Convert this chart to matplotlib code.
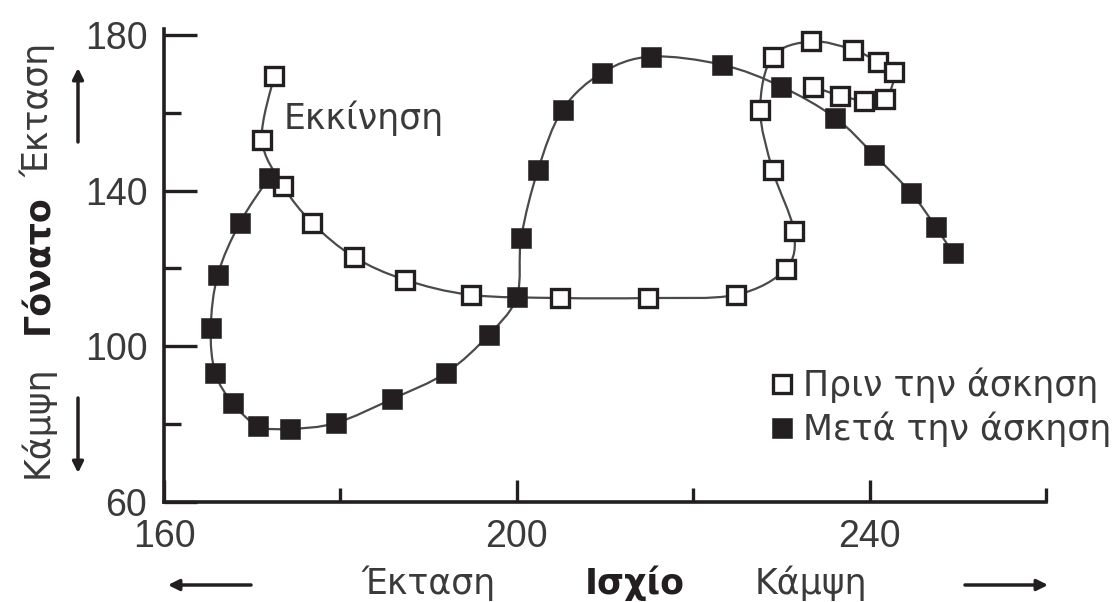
import matplotlib
matplotlib.use("Agg")
import matplotlib.pyplot as plt
from matplotlib.path import Path
from matplotlib.patches import PathPatch, FancyArrowPatch
import numpy as np

plt.rcParams['font.family'] = ['DejaVu Sans']

# Hip angle (x) and knee angle (y) before exercise (open squares)
before_hip = [172.5, 171.1, 173.5, 176.8, 181.5, 187.3, 194.8, 204.9, 214.9, 224.8,
              230.5, 231.4, 229.0, 227.6, 229.0, 233.4, 238.1, 240.9, 242.8, 241.8,
              239.4, 236.6, 233.6]
before_knee = [169.5, 153.1, 141.2, 131.7, 123.0, 117.1, 113.2, 112.4, 112.4, 113.2,
               119.9, 129.7, 145.3, 160.8, 174.4, 178.3, 176.2, 173.1, 170.5, 163.6,
               163.1, 164.4, 166.7]
# After exercise (filled squares)
after_hip = [171.9, 168.6, 166.1, 165.3, 165.8, 167.8, 170.7, 174.3, 179.5, 185.9,
             192.0, 196.8, 200.0, 200.5, 202.4, 205.2, 209.7, 215.2, 223.3, 230.0,
             236.1, 240.5, 244.7, 247.5, 249.4]
after_knee = [143.3, 131.7, 118.4, 104.7, 93.2, 85.4, 79.5, 78.8, 80.3, 86.5,
              93.2, 102.9, 112.7, 127.9, 145.3, 160.8, 170.3, 174.4, 172.3, 166.7,
              158.7, 149.2, 139.4, 130.7, 124.0]

x_major = [160, 200, 240]
x_minor = [180, 220, 260]
y_major = [60, 100, 140, 180]
y_minor = [80, 120, 160]

label_before = "Πριν την άσκηση"
label_after = "Μετά την άσκηση"
start_label = "Εκκίνηση"

INK = '#231f20'
TXT = '#3a3a3a'
LINE = '#4a4a4a'
FS = 25

W, H = 1115, 602
fig = plt.figure(figsize=(W / 100, H / 100), dpi=100)
ax = fig.add_axes([164 / W, 1 - 502 / H, (1046 - 164) / W, (502 - 29) / H])


def smooth_path(xs, ys):
    p = np.column_stack([xs, ys]).astype(float)
    n = len(p)
    verts = [p[0]]
    codes = [Path.MOVETO]
    for i in range(n - 1):
        p0 = p[i - 1] if i > 0 else p[i]
        p1 = p[i]
        p2 = p[i + 1]
        p3 = p[i + 2] if i + 2 < n else p[i + 1]
        c1 = p1 + (p2 - p0) / 6.0
        c2 = p2 - (p3 - p1) / 6.0
        verts += [c1, c2, p2]
        codes += [Path.CURVE4] * 3
    return Path(verts, codes)


ax.add_patch(PathPatch(smooth_path(after_hip, after_knee), fill=False,
                       edgecolor=LINE, lw=1.6, zorder=2))
ax.add_patch(PathPatch(smooth_path(before_hip, before_knee), fill=False,
                       edgecolor=LINE, lw=1.6, zorder=2))

ax.plot(before_hip, before_knee, ls='none', marker='s', ms=12.5, mfc='white',
        mec=INK, mew=2.4, zorder=3, label=label_before)
ax.plot(after_hip, after_knee, ls='none', marker='s', ms=14.6, mfc=INK,
        mec=INK, mew=0.4, zorder=4, label=label_after)

ax.set_xlim(160, 260)
ax.set_ylim(60, 181.5)

for s in ['top', 'right']:
    ax.spines[s].set_visible(False)
for s in ['left', 'bottom']:
    ax.spines[s].set_linewidth(2.6)
    ax.spines[s].set_color(INK)

ax.set_xticks(x_major)
ax.set_xticks(x_minor, minor=True)
ax.set_yticks(y_major)
ax.set_yticks(y_minor, minor=True)
ax.tick_params(axis='both', which='both', direction='in', color=INK,
               width=2.4, labelsize=27, labelcolor=TXT, pad=12)
ax.tick_params(axis='y', which='major', length=24)
ax.tick_params(axis='y', which='minor', length=12)
ax.tick_params(axis='x', which='major', length=16)
ax.tick_params(axis='x', which='minor', length=10)
for lab in ax.get_xticklabels() + ax.get_yticklabels():
    lab.set_fontfamily(['Liberation Sans', 'DejaVu Sans'])

ax.text(173.6, 158.6, start_label, fontsize=FS, color=TXT, ha='left', va='center')

leg = ax.legend(loc='center left', bbox_to_anchor=(772 / W, 1 - 407 / H),
                bbox_transform=fig.transFigure, frameon=False, fontsize=FS,
                handlelength=0.6, handletextpad=0.3, labelspacing=0.25,
                borderpad=0, borderaxespad=0)
for t in leg.get_texts():
    t.set_color(TXT)


def fx(px):
    return px / W


def fy(py):
    return 1 - py / H


# Left (knee) labels
for txt, yc, bold in [("Έκταση", 110, False), ("Γόνατο", 264, True), ("Κάμψη", 422, False)]:
    fig.text(fx(48), fy(yc), txt, rotation=90, rotation_mode='anchor', fontsize=FS,
             color=INK if bold else TXT, fontweight='bold' if bold else 'normal',
             ha='center', va='baseline')

arrow_kw = dict(arrowstyle='-|>', lw=2.5, color=INK, mutation_scale=16,
                shrinkA=0, shrinkB=0, transform=fig.transFigure)
fig.add_artist(FancyArrowPatch((fx(78), fy(142)), (fx(78), fy(68)), **arrow_kw))
fig.add_artist(FancyArrowPatch((fx(78), fy(398)), (fx(78), fy(473)), **arrow_kw))

# Bottom (hip) labels
fig.text(fx(429), fy(594), "Έκταση", fontsize=FS, color=TXT, ha='center', va='baseline')
fig.text(fx(635), fy(594), "Ισχίο", fontsize=FS, color=INK, fontweight='bold',
         ha='center', va='baseline')
fig.text(fx(811), fy(594), "Κάμψη", fontsize=FS, color=TXT, ha='center', va='baseline')
fig.add_artist(FancyArrowPatch((fx(251), fy(585)), (fx(168), fy(585)), **arrow_kw))
fig.add_artist(FancyArrowPatch((fx(965), fy(585)), (fx(1048), fy(585)), **arrow_kw))

fig.savefig("out.png", dpi=100)
